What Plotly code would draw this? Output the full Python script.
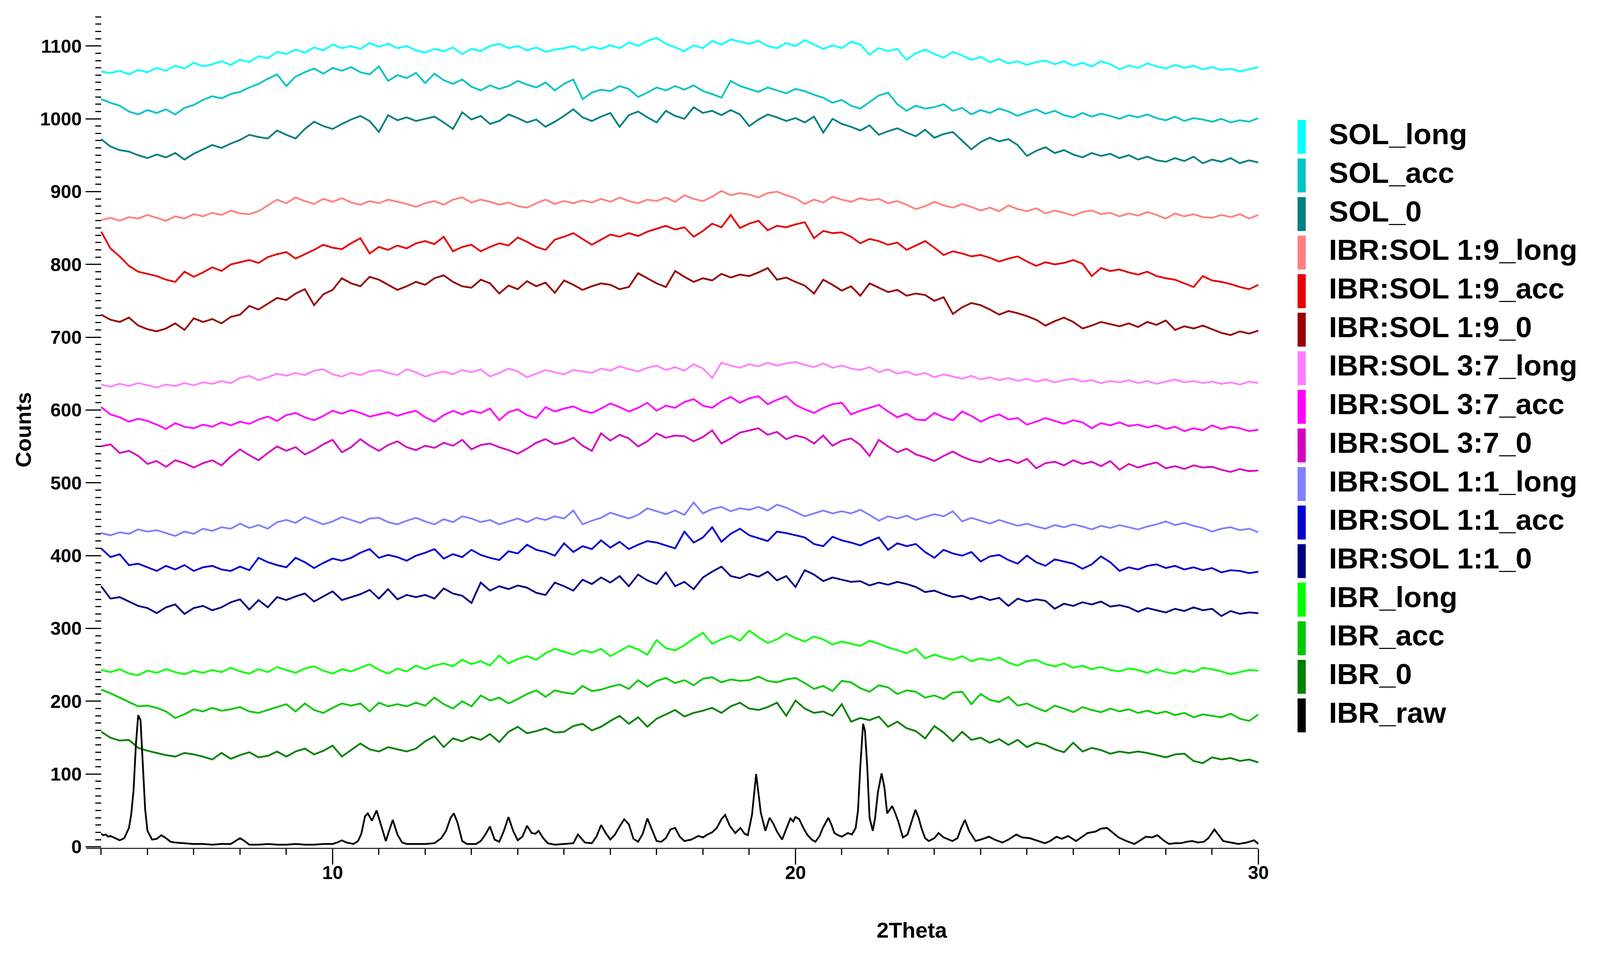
import numpy as np
import plotly.graph_objects as go

# reference canvas, used to turn pixel positions into paper fractions
REF_W, REF_H = 4299, 2470
FONT = "Arial, Liberation Sans, sans-serif"

# 2theta scan of the noisy patterns: 5 -> 30 deg, step 0.2
scan_start, scan_step, scan_n = 5.0, 0.2, 126
two_theta = np.round(scan_start + scan_step * np.arange(scan_n), 2)

sol_long = [1065, 1063, 1066, 1061, 1067, 1064, 1070, 1066, 1073, 1069,
            1077, 1072, 1075, 1079, 1074, 1081, 1078, 1086, 1083, 1092,
            1089, 1095, 1091, 1098, 1094, 1102, 1097, 1100, 1096, 1104,
            1099, 1103, 1097, 1100, 1094, 1091, 1096, 1093, 1098, 1089,
            1096, 1093, 1100, 1103, 1097, 1100, 1094, 1098, 1092, 1095,
            1097, 1100, 1094, 1099, 1096, 1101, 1097, 1105, 1100, 1107,
            1111, 1103, 1098, 1093, 1101, 1097, 1107, 1102, 1109, 1106,
            1103, 1107, 1100, 1097, 1104, 1100, 1108, 1102, 1096, 1101,
            1097, 1106, 1102, 1088, 1097, 1093, 1096, 1081, 1090, 1095,
            1089, 1084, 1092, 1087, 1081, 1085, 1078, 1082, 1076, 1079,
            1074, 1078, 1080, 1075, 1079, 1073, 1077, 1072, 1079, 1075,
            1068, 1073, 1070, 1076, 1072, 1069, 1074, 1070, 1073, 1068,
            1071, 1067, 1069, 1065, 1068, 1071]

sol_acc = [1027, 1022, 1018, 1010, 1006, 1012, 1008, 1013, 1006, 1015,
           1019, 1026, 1031, 1028, 1034, 1037, 1043, 1048, 1055, 1061,
           1045, 1058, 1064, 1069, 1062, 1070, 1066, 1071, 1064, 1061,
           1072, 1052, 1060, 1056, 1063, 1049, 1062, 1053, 1048, 1054,
           1044, 1039, 1046, 1041, 1045, 1052, 1047, 1043, 1050, 1039,
           1048, 1054, 1027, 1036, 1040, 1038, 1045, 1041, 1030, 1036,
           1043, 1039, 1045, 1040, 1046, 1038, 1034, 1029, 1052, 1045,
           1041, 1037, 1043, 1039, 1035, 1041, 1038, 1033, 1029, 1022,
           1026, 1018, 1014, 1023, 1032, 1036, 1020, 1011, 1018, 1014,
           1016, 1020, 1011, 1015, 1006, 1012, 1008, 1014, 1010, 1004,
           1009, 1013, 1007, 1011, 1005, 1002, 1008, 1003, 1007, 1004,
           1000, 1005, 1002, 1006, 1001, 998, 1003, 997, 1001, 999,
           996, 1000, 995, 998, 996, 1001]

sol_0 = [972, 962, 957, 955, 950, 946, 951, 947, 953, 944,
         952, 958, 964, 960, 966, 971, 978, 975, 973, 984,
         978, 973, 986, 996, 990, 986, 993, 999, 1004, 997,
         982, 1005, 998, 1002, 997, 1000, 1003, 995, 986, 1009,
         999, 1004, 993, 997, 1006, 1001, 995, 999, 989, 996,
         1004, 1013, 1002, 997, 1003, 1008, 989, 1005, 1010, 1002,
         995, 1011, 1004, 1000, 1016, 1008, 1011, 1005, 1012, 1006,
         990, 999, 1006, 1002, 997, 1001, 995, 1003, 981, 1000,
         993, 989, 984, 991, 978, 983, 987, 981, 976, 985,
         974, 979, 982, 970, 958, 968, 974, 969, 972, 964,
         949, 956, 961, 953, 957, 951, 947, 953, 949, 952,
         946, 950, 944, 948, 943, 941, 946, 942, 948, 939,
         944, 941, 946, 939, 943, 940]

mix19_long = [861, 864, 860, 865, 863, 868, 864, 860, 866, 863,
              869, 866, 871, 868, 874, 870, 869, 873, 881, 889,
              884, 892, 887, 883, 890, 886, 891, 885, 882, 887,
              884, 889, 886, 883, 879, 884, 887, 882, 889, 892,
              885, 889, 886, 882, 885, 880, 878, 884, 889, 883,
              887, 884, 888, 885, 890, 886, 892, 887, 884, 889,
              887, 892, 886, 895, 890, 887, 893, 901, 895, 898,
              896, 892, 898, 900, 895, 891, 883, 889, 885, 893,
              889, 886, 891, 888, 890, 884, 887, 882, 876, 880,
              886, 881, 878, 883, 879, 874, 878, 873, 881, 876,
              873, 877, 870, 874, 871, 867, 872, 874, 869, 871,
              866, 870, 867, 872, 868, 863, 870, 866, 869, 865,
              864, 868, 865, 869, 863, 868]

mix19_acc = [845, 822, 811, 798, 790, 787, 784, 779, 776, 790,
             783, 789, 796, 791, 800, 803, 806, 802, 810, 814,
             817, 808, 814, 820, 827, 823, 821, 829, 836, 815,
             824, 820, 826, 822, 829, 832, 828, 838, 818, 824,
             827, 818, 824, 829, 826, 837, 831, 824, 820, 834,
             838, 843, 835, 827, 834, 841, 838, 843, 839, 845,
             849, 853, 848, 851, 838, 846, 856, 851, 868, 850,
             856, 860, 847, 853, 851, 855, 858, 836, 846, 843,
             844, 838, 829, 835, 832, 827, 830, 820, 826, 832,
             823, 813, 818, 815, 811, 813, 809, 804, 808, 811,
             804, 798, 803, 800, 802, 806, 801, 784, 795, 791,
             793, 789, 786, 790, 784, 781, 779, 774, 769, 784,
             778, 776, 773, 769, 766, 772]

mix19_0 = [731, 724, 721, 727, 716, 711, 708, 712, 719, 710,
           726, 721, 725, 719, 728, 731, 743, 738, 746, 754,
           751, 760, 766, 744, 759, 765, 781, 774, 770, 783,
           779, 772, 765, 770, 776, 772, 781, 785, 776, 770,
           768, 779, 774, 760, 771, 766, 777, 770, 775, 761,
           778, 772, 765, 770, 774, 772, 766, 769, 788, 781,
           774, 769, 791, 783, 776, 781, 778, 787, 782, 786,
           784, 789, 795, 779, 782, 776, 771, 760, 779, 772,
           764, 770, 757, 774, 768, 762, 765, 757, 760, 758,
           750, 755, 732, 741, 747, 744, 738, 731, 736, 733,
           729, 724, 716, 722, 727, 721, 712, 716, 721, 718,
           715, 719, 714, 721, 717, 723, 710, 715, 712, 716,
           711, 706, 703, 708, 705, 709]

mix37_long = [635, 632, 636, 633, 637, 634, 631, 635, 633, 637,
              634, 638, 636, 640, 637, 644, 647, 641, 645, 650,
              647, 651, 648, 654, 656, 649, 646, 651, 648, 653,
              655, 651, 648, 656, 652, 646, 650, 653, 649, 655,
              652, 656, 646, 651, 657, 653, 645, 650, 655, 652,
              649, 655, 653, 651, 657, 654, 660, 656, 653, 658,
              661, 655, 659, 654, 663, 657, 644, 665, 661, 658,
              663, 660, 665, 661, 664, 666, 662, 659, 664, 658,
              661, 657, 655, 659, 652, 656, 650, 653, 648, 651,
              645, 649, 646, 643, 647, 642, 645, 641, 644, 640,
              643, 639, 642, 638, 641, 643, 639, 641, 637, 640,
              638, 641, 637, 640, 636, 639, 642, 638, 640, 637,
              639, 636, 638, 635, 639, 637]

mix37_acc = [604, 594, 590, 584, 588, 585, 580, 574, 582, 577,
             575, 580, 577, 583, 579, 584, 581, 587, 591, 585,
             593, 596, 590, 586, 592, 599, 595, 600, 596, 591,
             594, 597, 592, 596, 599, 590, 584, 593, 599, 594,
             599, 596, 602, 586, 597, 601, 593, 589, 604, 598,
             602, 605, 599, 596, 602, 609, 604, 598, 603, 610,
             599, 606, 603, 611, 615, 606, 603, 612, 618, 610,
             616, 619, 608, 614, 619, 607, 601, 596, 603, 608,
             610, 594, 599, 603, 607, 598, 590, 595, 587, 586,
             596, 590, 586, 598, 592, 584, 590, 594, 587, 589,
             580, 584, 589, 585, 581, 586, 583, 575, 582, 579,
             583, 578, 580, 576, 579, 574, 577, 571, 575, 572,
             579, 574, 577, 575, 571, 573]

mix37_0 = [550, 553, 541, 544, 537, 526, 530, 522, 531, 527,
           521, 527, 531, 524, 536, 546, 538, 531, 541, 550,
           544, 549, 539, 545, 553, 559, 542, 549, 560, 551,
           544, 552, 557, 549, 545, 551, 548, 555, 551, 559,
           546, 552, 554, 549, 545, 540, 547, 555, 560, 553,
           556, 562, 551, 544, 568, 558, 566, 561, 550, 557,
           568, 562, 565, 564, 557, 563, 572, 554, 561, 569,
           572, 575, 566, 570, 560, 565, 562, 554, 565, 551,
           558, 561, 552, 537, 559, 550, 542, 547, 539, 535,
           530, 537, 543, 536, 531, 528, 534, 529, 532, 527,
           533, 520, 527, 529, 524, 531, 526, 529, 523, 530,
           518, 526, 521, 525, 528, 520, 523, 519, 524, 521,
           522, 518, 515, 519, 516, 517]

mix11_long = [431, 428, 432, 430, 436, 433, 435, 431, 427, 433,
              430, 437, 434, 439, 437, 444, 438, 442, 437, 446,
              449, 445, 453, 448, 443, 447, 453, 449, 445, 451,
              452, 446, 443, 448, 452, 447, 443, 450, 446, 454,
              451, 446, 449, 443, 447, 451, 446, 452, 449, 454,
              451, 462, 443, 448, 452, 459, 455, 451, 456, 465,
              461, 457, 462, 456, 473, 458, 464, 467, 461, 465,
              463, 467, 462, 470, 466, 460, 454, 458, 462, 458,
              461, 458, 463, 456, 448, 454, 451, 455, 449, 453,
              457, 454, 461, 447, 452, 448, 444, 449, 445, 441,
              444, 440, 437, 442, 439, 443, 440, 436, 441, 438,
              442, 439, 436, 440, 443, 447, 442, 445, 441, 438,
              433, 437, 439, 435, 437, 432]

mix11_acc = [410, 398, 402, 387, 389, 384, 379, 386, 381, 387,
             379, 384, 386, 381, 379, 385, 380, 397, 391, 387,
             384, 397, 391, 383, 390, 396, 393, 397, 404, 409,
             397, 401, 398, 393, 400, 404, 409, 396, 402, 398,
             408, 401, 397, 394, 406, 403, 415, 408, 405, 400,
             417, 405, 413, 409, 421, 411, 419, 409, 415, 420,
             418, 414, 410, 433, 418, 425, 439, 419, 430, 437,
             428, 424, 420, 433, 431, 428, 425, 416, 413, 426,
             421, 418, 414, 420, 425, 408, 417, 413, 416, 405,
             397, 408, 403, 400, 405, 392, 399, 401, 394, 389,
             400, 391, 386, 395, 392, 389, 382, 388, 399, 391,
             379, 384, 381, 386, 388, 383, 386, 381, 384, 380,
             383, 377, 380, 379, 376, 378]

mix11_0 = [358, 341, 343, 337, 331, 328, 321, 329, 333, 320,
           328, 331, 325, 329, 336, 340, 326, 339, 329, 343,
           339, 344, 348, 337, 344, 351, 339, 343, 347, 353,
           341, 354, 340, 346, 343, 346, 341, 355, 348, 345,
           335, 363, 352, 358, 354, 359, 356, 349, 346, 363,
           358, 352, 367, 361, 370, 363, 372, 358, 374, 366,
           361, 377, 358, 364, 354, 370, 378, 385, 372, 369,
           375, 371, 378, 366, 372, 357, 380, 374, 365, 370,
           367, 364, 365, 359, 363, 360, 364, 361, 357, 350,
           352, 347, 343, 345, 340, 344, 339, 342, 331, 341,
           337, 340, 338, 327, 334, 331, 336, 333, 337, 330,
           332, 329, 323, 328, 325, 322, 327, 324, 329, 325,
           327, 317, 324, 320, 322, 321]

ibr_long = [243, 240, 244, 238, 236, 242, 239, 244, 240, 237,
            242, 239, 243, 240, 246, 241, 238, 244, 240, 247,
            243, 239, 245, 248, 242, 238, 244, 241, 246, 251,
            243, 238, 245, 241, 249, 244, 249, 252, 248, 257,
            251, 255, 249, 263, 252, 258, 262, 257, 266, 272,
            268, 264, 270, 267, 272, 262, 269, 276, 271, 264,
            284, 273, 270, 277, 286, 294, 279, 285, 290, 283,
            297, 288, 280, 285, 293, 287, 282, 289, 285, 278,
            282, 279, 276, 283, 279, 274, 270, 266, 272, 259,
            264, 260, 257, 262, 255, 259, 256, 260, 253, 249,
            255, 257, 251, 248, 252, 246, 249, 244, 247, 243,
            241, 245, 243, 239, 244, 240, 238, 243, 240, 246,
            244, 241, 237, 240, 243, 242]

ibr_acc = [216, 211, 205, 199, 193, 194, 191, 186, 177, 182,
           189, 186, 191, 187, 189, 192, 186, 184, 188, 192,
           196, 186, 197, 188, 184, 191, 197, 194, 197, 186,
           198, 193, 196, 193, 198, 194, 205, 196, 190, 200,
           193, 208, 201, 205, 197, 203, 210, 215, 206, 215,
           212, 210, 221, 214, 216, 220, 223, 217, 229, 220,
           228, 232, 225, 229, 222, 231, 233, 226, 230, 228,
           229, 234, 228, 226, 230, 232, 225, 217, 221, 214,
           228, 226, 218, 213, 222, 219, 210, 215, 213, 205,
           208, 203, 212, 213, 196, 210, 202, 199, 206, 194,
           197, 191, 186, 194, 190, 185, 192, 188, 185, 190,
           186, 189, 184, 187, 183, 186, 181, 184, 178, 182,
           180, 178, 183, 176, 173, 182]

ibr_0 = [158, 150, 146, 147, 136, 132, 129, 126, 124, 129,
         127, 124, 120, 129, 121, 126, 130, 123, 125, 131,
         124, 131, 135, 127, 132, 139, 124, 133, 142, 134,
         131, 137, 134, 131, 135, 145, 152, 137, 149, 145,
         151, 147, 155, 144, 158, 165, 156, 159, 163, 157,
         158, 166, 169, 160, 165, 173, 180, 169, 178, 165,
         176, 182, 188, 179, 184, 187, 191, 184, 193, 198,
         190, 188, 192, 198, 180, 201, 190, 184, 186, 180,
         196, 172, 177, 174, 179, 165, 172, 163, 159, 149,
         166, 157, 145, 158, 147, 150, 143, 148, 140, 147,
         137, 143, 140, 134, 130, 143, 131, 136, 133, 128,
         131, 129, 131, 129, 126, 123, 127, 128, 118, 115,
         123, 120, 122, 118, 120, 116]

# crystalline IBR pattern, read at its own (finer around peaks) positions
raw_x = [5.0, 5.05, 5.1, 5.15, 5.2, 5.3, 5.4, 5.5, 5.6, 5.65,
         5.7, 5.75, 5.8, 5.85, 5.9, 5.95, 6.0, 6.1, 6.2, 6.3,
         6.4, 6.5, 6.6, 6.8, 7.0, 7.2, 7.4, 7.6, 7.8, 7.9,
         8.0, 8.1, 8.2, 8.4, 8.6, 8.8, 9.0, 9.2, 9.4, 9.6,
         9.8, 10.0, 10.1, 10.2, 10.3, 10.45, 10.55, 10.62, 10.7, 10.76,
         10.85, 10.95, 11.05, 11.15, 11.22, 11.3, 11.4, 11.5, 11.6, 11.8,
         12.0, 12.2, 12.35, 12.45, 12.55, 12.62, 12.7, 12.8, 12.9, 13.1,
         13.2, 13.3, 13.4, 13.5, 13.6, 13.7, 13.8, 13.9, 14.0, 14.1,
         14.2, 14.3, 14.38, 14.45, 14.55, 14.65, 14.8, 15.0, 15.2, 15.3,
         15.45, 15.6, 15.7, 15.8, 15.9, 16.0, 16.1, 16.2, 16.3, 16.4,
         16.5, 16.6, 16.7, 16.8, 16.9, 17.0, 17.1, 17.2, 17.3, 17.4,
         17.5, 17.6, 17.75, 17.9, 18.0, 18.1, 18.2, 18.3, 18.4, 18.48,
         18.58, 18.7, 18.81, 18.9, 18.97, 19.06, 19.15, 19.25, 19.35, 19.44,
         19.52, 19.6, 19.71, 19.8, 19.89, 19.95, 20.0, 20.08, 20.17, 20.25,
         20.35, 20.43, 20.52, 20.59, 20.71, 20.78, 20.84, 20.92, 21.0, 21.13,
         21.22, 21.3, 21.35, 21.4, 21.46, 21.5, 21.55, 21.6, 21.67, 21.72,
         21.78, 21.86, 21.92, 21.98, 22.04, 22.09, 22.15, 22.22, 22.32, 22.42,
         22.5, 22.59, 22.66, 22.72, 22.8, 22.88, 23.0, 23.09, 23.2, 23.39,
         23.5, 23.58, 23.66, 23.75, 23.89, 24.0, 24.18, 24.3, 24.47, 24.6,
         24.77, 24.9, 25.06, 25.2, 25.39, 25.5, 25.64, 25.75, 25.89, 26.06,
         26.2, 26.31, 26.48, 26.6, 26.73, 26.85, 26.98, 27.15, 27.32, 27.45,
         27.57, 27.7, 27.82, 27.95, 28.07, 28.2, 28.32, 28.45, 28.57, 28.7,
         28.82, 28.92, 29.0, 29.05, 29.12, 29.24, 29.4, 29.57, 29.75, 29.91,
         30.0]
raw_y = [18, 16, 17, 14, 15, 12, 9, 12, 26, 45,
         78, 140, 181, 174, 115, 52, 22, 10, 11, 16,
         12, 7, 6, 5, 4, 4, 3, 4, 4, 8,
         12, 8, 3, 3, 4, 3, 3, 4, 3, 3,
         4, 4, 6, 9, 6, 4, 8, 18, 42, 46,
         36, 50, 30, 8, 22, 37, 17, 6, 4, 4,
         4, 5, 12, 22, 40, 46, 33, 8, 4, 4,
         8, 17, 28, 10, 7, 22, 41, 22, 9, 14,
         29, 19, 18, 22, 12, 5, 3, 4, 5, 17,
         6, 5, 14, 30, 19, 10, 17, 28, 38, 31,
         11, 7, 18, 39, 24, 8, 7, 12, 24, 26,
         14, 8, 10, 15, 13, 17, 20, 26, 38, 44,
         29, 19, 26, 18, 16, 44, 100, 47, 22, 40,
         32, 21, 10, 24, 39, 35, 41, 38, 26, 17,
         10, 7, 15, 26, 40, 30, 19, 16, 14, 19,
         17, 26, 50, 110, 169, 160, 110, 40, 22, 40,
         75, 101, 82, 46, 52, 56, 47, 35, 13, 17,
         33, 51, 40, 26, 12, 8, 12, 19, 13, 8,
         12, 26, 37, 22, 8, 10, 14, 10, 6, 10,
         17, 13, 12, 9, 5, 8, 14, 11, 15, 8,
         14, 19, 21, 25, 26, 20, 13, 8, 4, 9,
         14, 13, 16, 9, 4, 5, 5, 7, 8, 6,
         7, 12, 20, 24, 18, 8, 6, 4, 6, 9,
         4]

names = ["SOL_long", "SOL_acc", "SOL_0",
         "IBR:SOL 1:9_long", "IBR:SOL 1:9_acc", "IBR:SOL 1:9_0",
         "IBR:SOL 3:7_long", "IBR:SOL 3:7_acc", "IBR:SOL 3:7_0",
         "IBR:SOL 1:1_long", "IBR:SOL 1:1_acc", "IBR:SOL 1:1_0",
         "IBR_long", "IBR_acc", "IBR_0", "IBR_raw"]
colors = ["#00FFFF", "#00C4C4", "#008080",
          "#FF8080", "#E60000", "#960000",
          "#FF80FF", "#FF00FF", "#D600BE",
          "#8080FF", "#0000CD", "#000080",
          "#00FF00", "#00C800", "#008000", "#000000"]
patterns = [sol_long, sol_acc, sol_0,
            mix19_long, mix19_acc, mix19_0,
            mix37_long, mix37_acc, mix37_0,
            mix11_long, mix11_acc, mix11_0,
            ibr_long, ibr_acc, ibr_0]


def fx(p):
    # reference pixel -> paper fraction (x)
    return p / REF_W


def fy(p):
    # reference pixel (from top) -> paper fraction (y)
    return 1 - p / REF_H


fig = go.Figure()

for name, color, vals in zip(names, colors, patterns):
    fig.add_trace(go.Scatter(x=two_theta, y=vals, mode="lines", name=name,
                             line=dict(color=color, width=4.5), hoverinfo="skip"))
fig.add_trace(go.Scatter(x=raw_x, y=raw_y, mode="lines", name=names[-1],
                         line=dict(color=colors[-1], width=4.5), hoverinfo="skip"))

# legend drawn as its own little panel on the right: colour bar + label per entry
leg_left = fx(3450)
idx = list(range(len(names)))
fig.add_trace(go.Scatter(x=[fx(3526)] * len(names), y=idx, xaxis="x3", yaxis="y3",
                         mode="markers", hoverinfo="skip",
                         marker=dict(symbol="line-ns", size=62,
                                     line=dict(width=21, color=colors))))
fig.add_trace(go.Scatter(x=[fx(3600)] * len(names), y=idx, xaxis="x3", yaxis="y3",
                         mode="text", text=names, textposition="middle right",
                         hoverinfo="skip", cliponaxis=False,
                         textfont=dict(family=FONT, size=75, color="black", weight="bold")))

x_dom = [fx(226), fx(3408.5)]
x_rng = [4.68, 30]
y_dom = [fy(2198), fy(32)]
y_rng = [-1, 1142]
y_pos = fx(266)
tick_font = dict(family=FONT, size=48, color="black", weight="bold")

fig.update_layout(
    autosize=True,
    margin=dict(l=0, r=0, t=0, b=0),
    paper_bgcolor="white", plot_bgcolor="rgba(0,0,0,0)",
    showlegend=False,
    font=dict(family=FONT, color="black"),
    xaxis=dict(domain=x_dom, range=x_rng, anchor="y",
               showgrid=False, zeroline=False,
               showline=True, linecolor="#333333", linewidth=3,
               tickmode="array", tickvals=[10, 20, 30],
               ticks="outside", ticklen=40, tickwidth=3, tickcolor="black",
               tickfont=tick_font, ticklabelstandoff=-20,
               minor=dict(tickmode="linear", tick0=0, dtick=1, ticks="outside",
                          ticklen=15, tickwidth=3, tickcolor="black", showgrid=False)),
    xaxis2=dict(domain=x_dom, range=x_rng, overlaying="x", anchor="y",
                showgrid=False, zeroline=False, showline=False,
                tickmode="array", tickvals=[5, 15, 25], showticklabels=False,
                ticks="outside", ticklen=27, tickwidth=3, tickcolor="black"),
    yaxis=dict(domain=y_dom, range=y_rng, anchor="free", position=y_pos,
               showgrid=False, zeroline=False, showline=False,
               tickmode="array", tickvals=list(range(0, 1101, 100)),
               ticks="outside", ticklen=40, tickwidth=3, tickcolor="black",
               tickfont=tick_font,
               minor=dict(tickmode="linear", tick0=0, dtick=10, ticks="outside",
                          ticklen=15, tickwidth=3, tickcolor="black", showgrid=False)),
    yaxis2=dict(domain=y_dom, range=y_rng, overlaying="y", anchor="free", position=y_pos,
                showgrid=False, zeroline=False, showline=False,
                tickmode="array", tickvals=list(range(50, 1100, 100)),
                showticklabels=False,
                ticks="outside", ticklen=25, tickwidth=3, tickcolor="black"),
    xaxis3=dict(domain=[leg_left, 1], range=[leg_left, 1], anchor="y3",
                visible=False, fixedrange=True),
    yaxis3=dict(domain=[fy(1904), fy(298)], range=[len(names) - 0.5, -0.5],
                anchor="x3", visible=False, fixedrange=True),
    annotations=[
        dict(text="Counts", x=fx(55), y=fy(1110), xref="paper", yref="paper",
             textangle=-90, showarrow=False, xanchor="center", yanchor="middle",
             font=dict(family=FONT, size=56, color="black", weight="bold")),
        dict(text="2Theta", x=fx(2468), y=fy(2413), xref="paper", yref="paper",
             showarrow=False, xanchor="center", yanchor="middle",
             font=dict(family=FONT, size=56, color="black", weight="bold")),
    ],
)

fig.write_html("out.html")
